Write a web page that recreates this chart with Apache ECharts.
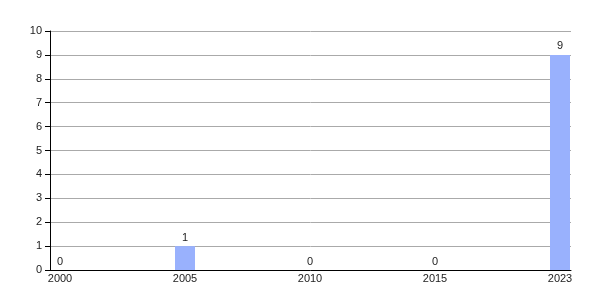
<!DOCTYPE html>
<html>
<head>
<meta charset="utf-8">
<script src="https://cdn.jsdelivr.net/npm/echarts@6/dist/echarts.min.js"></script>
<style>html,body{margin:0;padding:0;background:#fff}#c{width:600px;height:300px}</style>
</head>
<body>
<div id="c"></div>
<script>
const categories = ['2000', '2005', '2010', '2015', '2023'];
const values = [0, 1, 0, 0, 9];
const yTicks = [0, 1, 2, 3, 4, 5, 6, 7, 8, 9, 10];

const chart = echarts.init(document.getElementById('c'), null, {renderer: 'canvas'});
const font = 'Liberation Sans, Arial, sans-serif';
chart.setOption({
  animation: false,
  grid: {left: 50, right: 29, top: 31, bottom: 30, containLabel: false},
  xAxis: {
    type: 'value',
    min: -0.08,
    max: 4.088,
    splitLine: {show: false},
    axisTick: {show: false},
    axisLine: {show: true, onZero: false, lineStyle: {color: '#000', width: 1}},
    axisLabel: {
      customValues: categories.map((c, i) => i),
      formatter: v => categories[Math.round(v)] || '',
      color: '#222', fontFamily: font, fontSize: 11, margin: 3
    }
  },
  yAxis: {
    type: 'value',
    min: yTicks[0],
    max: yTicks[yTicks.length - 1],
    interval: 1,
    axisLine: {show: true, onZero: false, lineStyle: {color: '#000', width: 1}},
    axisTick: {show: true, length: 5, lineStyle: {color: '#000'}},
    splitLine: {show: true, lineStyle: {color: '#aaaaaa', width: 1}},
    axisLabel: {color: '#222', fontFamily: font, fontSize: 11, margin: 8}
  },
  series: [{
    type: 'bar',
    data: values.map((v, i) => [i, v]),
    barWidth: 20,
    itemStyle: {color: '#99b1fd'},
    label: {show: true, position: 'top', distance: 3, color: '#222', fontFamily: font, fontSize: 11,
      formatter: p => String(p.value[1])}
  }]
});
</script>
</body>
</html>
